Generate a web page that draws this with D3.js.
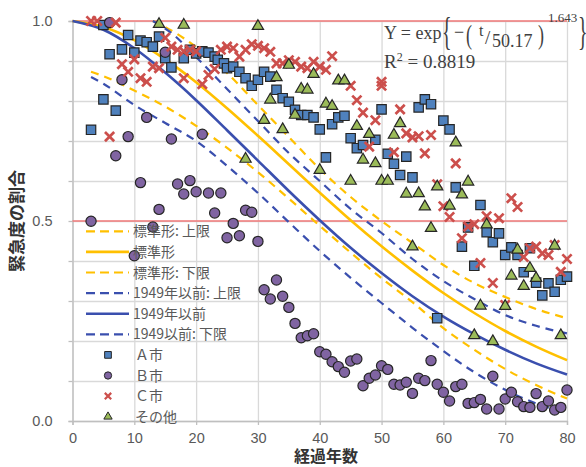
<!DOCTYPE html>
<html><head><meta charset="utf-8">
<script src="https://cdn.jsdelivr.net/npm/d3@7"></script>
<style>body{margin:0;background:#fff} svg{display:block}</style>
</head><body><svg id="c" width="586" height="467"></svg>
<script>
// ---------- data ----------
const xTicks = [0,10,20,30,40,50,60,70,80];
const yGrid = [0,0.1,0.2,0.3,0.4,0.5,0.6,0.7,0.8,0.9,1.0];
const yLabels = [0,0.5,1.0];
const refLines = [1.0,0.5];

const curveYears = [0,5,10,15,20,25,30,35,40,45,50,55,60,65,70,75,80];
const stdValues  = [1,0.985,0.952,0.904,0.847,0.782,0.713,0.642,0.571,0.502,0.437,0.376,0.320,0.270,0.225,0.186,0.152];
const oldValues  = [1,0.978,0.932,0.871,0.802,0.727,0.651,0.575,0.502,0.433,0.370,0.312,0.261,0.217,0.178,0.144,0.116];
const lowerYears = [3,5,10,15,20,25,30,35,40,45,50,55,60,65,70,75,80];
const stdLower   = [0.873,0.862,0.826,0.786,0.738,0.683,0.622,0.556,0.488,0.421,0.357,0.297,0.232,0.178,0.130,0.090,0.056];
const oldLower   = [0.86,0.843,0.79,0.745,0.700,0.638,0.570,0.497,0.425,0.358,0.295,0.233,0.175,0.122,0.078,0.044,0.02];
const stdUpperYears = [13,15,20,25,30,35,40,45,50,55,60,65,70,75,80];
const stdUpper   = [1.0,0.985,0.935,0.87,0.79,0.71,0.63,0.56,0.50,0.445,0.39,0.345,0.31,0.28,0.257];
const oldUpperYears = [13,16,20,25,30,35,40,45,50,55,60,65,70,75,80];
const oldUpper   = [1.0,0.97,0.91,0.83,0.75,0.67,0.60,0.53,0.47,0.405,0.35,0.305,0.265,0.238,0.219];

const aYears = [3,5,5,6,7,8,9,10,11,12,13,14,15,16,18,19,20,21,22,23,23.5,24.5,25,26,27,28,29,30,31,32,33,34,35,36,37,38,39,40,41,42,43,44,45,46,47,49,50,51,52,53,54,55,56,57,58,59,60,61,62,63,64,65,66,67,68,69,70,71,72,73,74,75,76,77,78,79,80];
const aValues = [0.728,0.804,0.99,0.917,0.776,0.929,0.965,0.921,0.951,0.947,0.936,0.961,0.907,0.884,0.907,0.928,0.919,0.924,0.921,0.911,0.903,0.894,0.882,0.886,0.873,0.857,0.838,0.853,0.873,0.861,0.828,0.807,0.798,0.778,0.765,0.765,0.759,0.729,0.659,0.742,0.759,0.763,0.707,0.682,0.690,0.703,0.779,0.668,0.643,0.615,0.661,0.609,0.784,0.804,0.792,0.257,0.751,0.729,0.584,0.436,0.484,0.388,0.540,0.472,0.447,0.469,0.415,0.434,0.415,0.372,0.432,0.346,0.314,0.344,0.323,0.353,0.361];

const bYears = [3,6,7,8,9,10,11,12,13,14,15,16,17,18,19,20,21,22,23,24,25,26,27,28,29,30,31,32,33,34,35,36,37,38,39,40,41,42,43,44,45,46,47,48,49,50,51,52,53,54,55,56,57,58,59,60,61,62,63,64,65,66,67,68,69,70,71,72,73,74,75,76,77,78,79,80];
const bValues = [0.4995,0.996,0.663,0.853,0.711,0.413,0.596,0.759,0.485,0.529,0.922,0.705,0.5925,0.5675,0.601,0.573,0.717,0.570,0.520,0.570,0.458,0.494,0.463,0.527,0.522,0.449,0.328,0.305,0.3525,0.312,0.284,0.244,0.208,0.213,0.218,0.173,0.167,0.148,0.136,0.122,0.150,0.155,0.088,0.107,0.115,0.138,0.129,0.092,0.090,0.097,0.069,0.107,0.101,0.151,0.092,0.072,0.050,0.086,0.092,0.044,0.046,0.054,0.030,0.112,0.030,0.055,0.072,0.048,0.036,0.034,0.0685,0.036,0.050,0.0275,0.034,0.0775];

const cYears = [3,4,7,6,8,9,10,11,12,13,14,15,16,17,18,18,19,20,21,22,23,24,25,26,27,28,29,30,31,32,33,34,35,36,37,38,39,40,41,42,45,46,47,48,49,50,50,52,53,54,55,56,57,58,59,60,61,62,63,64,65,66,67,68,69,70,71,72,73,74,75,76,77,78,79,80];
const cValues = [1.0,1.0,0.996,0.711,0.892,0.873,0.904,0.857,0.848,0.886,0.882,0.958,0.936,0.928,0.857,0.924,0.928,0.924,0.842,0.865,0.880,0.928,0.936,0.932,0.911,0.928,0.942,0.938,0.932,0.923,0.894,0.894,0.902,0.898,0.886,0.882,0.898,0.886,0.878,0.912,0.838,0.802,0.771,0.686,0.752,0.838,0.848,0.672,0.779,0.719,0.709,0.712,0.669,0.715,0.592,0.537,0.51,0.644,0.457,0.486,0.492,0.395,0.512,0.345,0.507,0.29,0.557,0.535,0.41,0.432,0.436,0.419,0.415,0.44,0.373,0.405];

const dYears = [14,18,28,30,31,32,33,34,35,36,37,38,39,40,41,42,43,44,45,46,47,48,49,50,51,52,53,54,55,56,57,58,59,61,62,63,64,65,66,67,68,70,71,72,73,74,75,78,79];
const dValues = [0.992,0.99,0.655,0.987,0.752,0.803,0.859,0.729,0.89,0.765,0.830,0.828,0.867,0.627,0.793,0.787,0.851,0.851,0.600,0.737,0.653,0.717,0.644,0.600,0.600,0.715,0.744,0.568,0.436,0.569,0.536,0.482,0.586,0.538,0.696,0.566,0.598,0.214,0.288,0.491,0.199,0.287,0.363,0.428,0.337,0.382,0.357,0.438,0.214];

const legendNames = ["標準形: 上限","標準形","標準形: 下限","1949年以前: 上限","1949年以前","1949以前: 下限","Ａ市","Ｂ市","Ｃ市","その他"];

// ---------- drawing ----------
const YELLOW = "#ffc000", BLUE = "#3a4fae";
const svg = d3.select("#c");
const x = d3.scaleLinear().domain([0,80]).range([72.5,567]);
const y = d3.scaleLinear().domain([0,1]).range([421,21]);
const FONT = "'Liberation Sans', Arial, sans-serif";
const CJK = "'Noto Sans CJK JP', sans-serif";

// grid
svg.append("g").attr("transform","translate(0,421)")
  .call(d3.axisBottom(x).tickValues(xTicks).tickSize(-400).tickFormat(""))
  .call(g=>g.select(".domain").remove())
  .selectAll("line").attr("stroke","#d9d9d9").attr("stroke-width",1.3);
svg.append("g").attr("transform","translate(72.5,0)")
  .call(d3.axisLeft(y).tickValues(yGrid).tickSize(-494.5).tickFormat(""))
  .call(g=>g.select(".domain").remove())
  .selectAll("line").attr("stroke","#d9d9d9").attr("stroke-width",1.3);

// axes
const xa = svg.append("g").attr("transform","translate(0,421)")
  .call(d3.axisBottom(x).tickValues(xTicks).tickSize(4).tickPadding(8).tickFormat(d3.format("d")));
const ya = svg.append("g").attr("transform","translate(72.5,0)")
  .call(d3.axisLeft(y).tickValues(yGrid).tickSize(4).tickPadding(16)
    .tickFormat(d => yLabels.some(v=>Math.abs(v-d)<1e-9) ? d3.format(".1f")(d) : ""));
[xa,ya].forEach(a=>{
  a.select(".domain").attr("stroke","#bfbfbf").attr("stroke-width",1.3);
  a.selectAll(".tick line").attr("stroke","#bfbfbf").attr("stroke-width",1.3);
  a.selectAll("text").attr("fill","#595959").style("font-family",FONT).style("font-size","14.5px");
});

// reference lines
svg.selectAll(".ref").data(refLines).join("line")
  .attr("x1",x(0)).attr("x2",x(80)).attr("y1",d=>y(d)).attr("y2",d=>y(d))
  .attr("stroke","#f07878").attr("stroke-width",1.6);

// curves
const line = d3.line().x(d=>x(d[0])).y(d=>y(d[1])).curve(d3.curveMonotoneX);
const curves = [
  {ys:stdUpperYears, vs:stdUpper, c:YELLOW, dash:true},
  {ys:curveYears, vs:stdValues, c:YELLOW, dash:false},
  {ys:lowerYears, vs:stdLower, c:YELLOW, dash:true},
  {ys:oldUpperYears, vs:oldUpper, c:BLUE, dash:true},
  {ys:curveYears, vs:oldValues, c:BLUE, dash:false},
  {ys:lowerYears, vs:oldLower, c:BLUE, dash:true},
];
curves.forEach(cv=>{
  svg.append("path").datum(cv.ys.map((t,i)=>[t,cv.vs[i]]))
    .attr("d",line).attr("fill","none").attr("stroke",cv.c)
    .attr("stroke-width",cv.dash?2.2:2.6)
    .attr("stroke-dasharray",cv.dash?"8,6":null);
});

// markers
const MSTROKE = "#262626";
function drawSquares(g, ys, vs, size){
  g.selectAll(null).data(ys.map((t,i)=>[t,vs[i]])).join("path")
    .attr("d",d3.symbol(d3.symbolSquare,size)())
    .attr("transform",d=>`translate(${x(d[0])},${y(d[1])})`)
    .attr("fill","#4f81bd").attr("stroke",MSTROKE).attr("stroke-width",1.2);
}
function drawCircles(g, ys, vs, size){
  g.selectAll(null).data(ys.map((t,i)=>[t,vs[i]])).join("path")
    .attr("d",d3.symbol(d3.symbolCircle,size)())
    .attr("transform",d=>`translate(${x(d[0])},${y(d[1])})`)
    .attr("fill","#8064a2").attr("stroke",MSTROKE).attr("stroke-width",1.2);
}
function crossPath(h){return `M${-h},${-h}L${h},${h}M${-h},${h}L${h},${-h}`;}
function drawCrosses(g, ys, vs, h){
  g.selectAll(null).data(ys.map((t,i)=>[t,vs[i]])).join("path")
    .attr("d",crossPath(h))
    .attr("transform",d=>`translate(${x(d[0])},${y(d[1])})`)
    .attr("fill","none").attr("stroke","#cc4f4c").attr("stroke-width",2.7);
}
function drawTriangles(g, ys, vs, size){
  g.selectAll(null).data(ys.map((t,i)=>[t,vs[i]])).join("path")
    .attr("d",d3.symbol(d3.symbolTriangle,size)())
    .attr("transform",d=>`translate(${x(d[0])},${y(d[1])})`)
    .attr("fill","#9bbb59").attr("stroke",MSTROKE).attr("stroke-width",1.2);
}
drawSquares(svg.append("g"), aYears, aValues, 88);
drawCircles(svg.append("g"), bYears, bValues, 82);
drawCrosses(svg.append("g"), cYears, cValues, 4.6);
drawTriangles(svg.append("g"), dYears, dValues, 55);

// legend
const lg = svg.append("g");
const legendY0 = 231.3, legendStep = 20.6;
legendNames.forEach((name,i)=>{
  const cy = legendY0 + i*legendStep;
  if(i<6){
    const cv = curves[i];
    lg.append("line").attr("x1",86).attr("x2",129).attr("y1",cy).attr("y2",cy)
      .attr("stroke",cv.c).attr("stroke-width",cv.dash?2.2:2.6)
      .attr("stroke-dasharray",cv.dash?"9,5":null);
  } else {
    const gg = lg.append("g").attr("transform",`translate(108,${cy})`);
    if(i===6) gg.append("path").attr("d",d3.symbol(d3.symbolSquare,45)()).attr("fill","#4f81bd").attr("stroke",MSTROKE).attr("stroke-width",1);
    if(i===7) gg.append("path").attr("d",d3.symbol(d3.symbolCircle,42)()).attr("fill","#8064a2").attr("stroke",MSTROKE).attr("stroke-width",1);
    if(i===8) gg.append("path").attr("d",crossPath(3.2)).attr("stroke","#cc4f4c").attr("stroke-width",2.2);
    if(i===9) gg.append("path").attr("d",d3.symbol(d3.symbolTriangle,30)()).attr("fill","#9bbb59").attr("stroke",MSTROKE).attr("stroke-width",1);
  }
  lg.append("text").attr("x", i<6?133:135).attr("y",cy).attr("dy","0.36em")
    .style("font-family",CJK).style("font-size","14px").attr("fill","#595959").text(name);
});

// formula
const SERIF = "'Liberation Serif','Times New Roman',serif";
const f = svg.append("g").attr("fill","#404040").style("font-family",SERIF);
f.append("text").attr("x",384).attr("y",39).style("font-size","18px").text("Y = exp");
f.append("text").attr("transform","translate(442,45) scale(1,2)").style("font-size","20px").text("{");
f.append("text").attr("x",454).attr("y",37.5).style("font-size","18px").text("−");
f.append("text").attr("transform","translate(466,43.5) scale(1,1.5)").style("font-size","18px").text("(");
f.append("text").attr("x",479).attr("y",36).style("font-size","16px").text("t");
f.append("text").attr("x",485).attr("y",44).style("font-size","19px").text("/");
f.append("text").attr("x",492).attr("y",47).style("font-size","18px").text("50.17");
f.append("text").attr("transform","translate(538,43.5) scale(1,1.5)").style("font-size","18px").text(")");
f.append("text").attr("x",548).attr("y",22).style("font-size","13px").text("1.643");
f.append("text").attr("transform","translate(578,45) scale(1,2)").style("font-size","20px").text("}");
const r2 = f.append("text").attr("x",384).attr("y",68).style("font-size","19px");
r2.append("tspan").text("R");
r2.append("tspan").attr("dy",-7).style("font-size","12px").text("2");
r2.append("tspan").attr("dy",7).text(" = 0.8819");

// titles
svg.append("text").attr("transform","translate(23,221) rotate(-90)")
  .attr("text-anchor","middle").style("font-family",CJK).style("font-size","17px")
  .style("font-weight","bold").attr("fill","#333").text("緊急度の割合");
svg.append("text").attr("x",326).attr("y",462).attr("text-anchor","middle")
  .style("font-family",CJK).style("font-size","16px").style("font-weight","bold")
  .attr("fill","#333").text("経過年数");
</script></body></html>
